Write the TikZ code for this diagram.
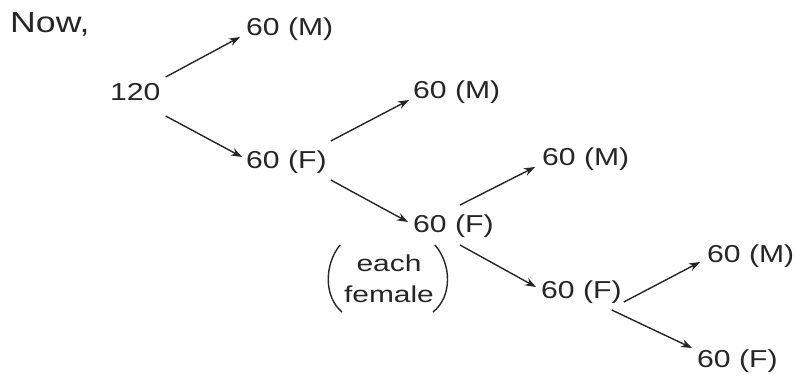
\documentclass[tikz,border=0pt]{standalone}
\usepackage{fontspec}
\setmainfont{Liberation Sans}
\newfontfamily\labfont[FakeStretch=1.23]{Liberation Sans}
\newfontfamily\notefont[FakeStretch=1.3]{Liberation Sans}
\usetikzlibrary{arrows.meta,calc}
\definecolor{ink}{HTML}{262626}
\begin{document}
\begin{tikzpicture}[x=1pt,y=-1pt,
  lbl/.style={inner sep=0pt, anchor=base west, font=\labfont\fontsize{24.5}{28}\selectfont, text=ink},
  note/.style={inner sep=0pt, anchor=base, font=\notefont\fontsize{23}{26}\selectfont, text=ink},
  arr/.style={draw=ink, line width=1.4pt, -{Stealth[length=11pt,width=8pt]}},
  paren/.style={draw=ink, line width=1.4pt}]
\useasboundingbox[fill=white] (0,0) rectangle (796,376);
\node[lbl, font=\labfont\fontsize{29}{32}\selectfont] (now) at (10,32) {Now,};
\node[lbl] (n120) at (110,100) {120};
\node[lbl] (m1) at (246,35) {60 (M)};
\node[lbl] (f1) at (246,168) {60 (F)};
\node[lbl] (m2) at (413,98) {60 (M)};
\node[lbl] (f2) at (413,232) {60 (F)};
\node[lbl] (m3) at (542,165) {60 (M)};
\node[lbl] (f3) at (541,298) {60 (F)};
\node[lbl] (m4) at (707,262) {60 (M)};
\node[lbl] (f4) at (697,367) {60 (F)};
\node[note] (each) at (389,271) {each};
\node[note] (female) at (389,302) {female};
% parentheses around the note
\draw[paren] ([shift={(-49,-26)}]each.base) .. controls ([shift={(-65,-6)}]each.base) and ([shift={(-65,26)}]each.base) .. ([shift={(-47,41)}]each.base);
\draw[paren] ([shift={(46,-26)}]each.base) .. controls ([shift={(63,-6)}]each.base) and ([shift={(63,26)}]each.base) .. ([shift={(44,41)}]each.base);
% arrows
\draw[arr] ([shift={(5,-23)}]n120.base east) -- ([shift={(-6,2)}]m1.base west);
\draw[arr] ([shift={(5,16)}]n120.base east) -- ([shift={(-4,-11)}]f1.base west);
\draw[arr] ([shift={(4,-27)}]f1.base east) -- ([shift={(-4,2)}]m2.base west);
\draw[arr] ([shift={(4,12)}]f1.base east) -- ([shift={(-5,-10)}]f2.base west);
\draw[arr] ([shift={(47,-27)}]f2.base west) -- ([shift={(-7,2)}]m3.base west);
\draw[arr] ([shift={(47,13)}]f2.base west) -- ([shift={(-5,-11)}]f3.base west);
\draw[arr] ([shift={(2,4)}]f3.base east) -- ([shift={(-7,0)}]m4.base west);
\draw[arr] ([shift={(-10,12)}]f3.base east) -- ([shift={(-5,-19)}]f4.base west);
\end{tikzpicture}
\end{document}
